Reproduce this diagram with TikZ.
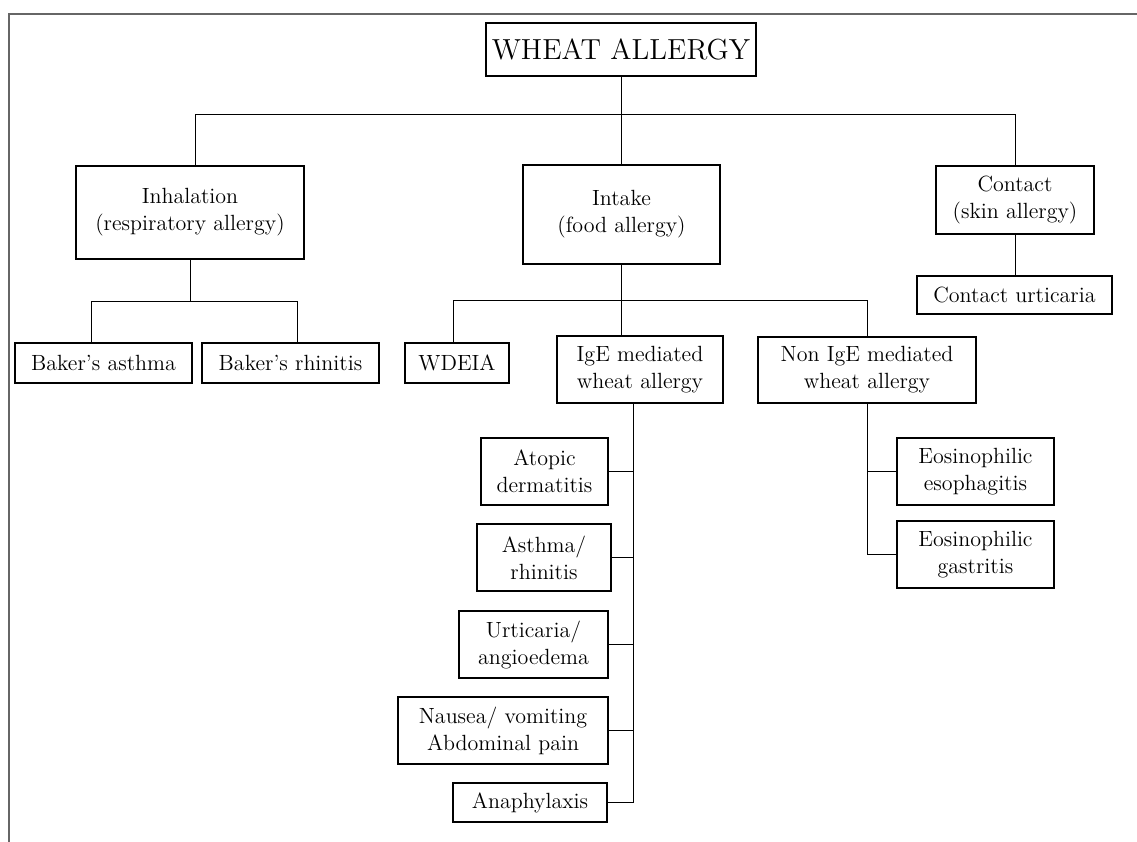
\documentclass[tikz,border=0pt]{standalone}
\usepackage{tikz}

\begin{document}
\begin{tikzpicture}[x=0.5pt,y=-0.5pt]
\tikzset{boite/.style={draw, line width=0.55pt, align=center, inner sep=1pt, font=\fontsize{11}{13.5}\selectfont}}
\useasboundingbox (0,0) rectangle (1137,842);
\draw[line width=1pt, black!60] (9,842) -- (9,14) -- (1137,14);
\node[boite, minimum width=135pt, minimum height=26.5pt, font=\fontsize{14.5}{17}\selectfont] (wa) at (621,49.5) {WHEAT ALLERGY};
\node[boite, minimum width=114pt, minimum height=46.5pt] (inh) at (190,212.5) {Inhalation\\(respiratory allergy)};
\node[boite, minimum width=98.5pt, minimum height=49.5pt] (intk) at (621.5,214.5) {Intake\\(food allergy)};
\node[boite, minimum width=79pt, minimum height=34pt] (cont) at (1015,200) {Contact\\(skin allergy)};
\node[boite, minimum width=97.5pt, minimum height=19pt] (curt) at (1014.5,295) {Contact urticaria};
\node[boite, minimum width=88.5pt, minimum height=20pt] (bka) at (103.5,363) {Baker's asthma};
\node[boite, minimum width=88.5pt, minimum height=20pt] (bkr) at (290.5,363) {Baker's rhinitis};
\node[boite, minimum width=52pt, minimum height=20pt] (wdeia) at (457,363) {WDEIA};
\node[boite, minimum width=83pt, minimum height=33.5pt] (ige) at (640,369.5) {IgE mediated\\wheat allergy};
\node[boite, minimum width=109pt, minimum height=33pt] (nonige) at (867,370) {Non IgE mediated\\wheat allergy};
\node[boite, minimum width=63.5pt, minimum height=33.5pt] (atop) at (544.5,471.5) {Atopic\\dermatitis};
\node[boite, minimum width=67pt, minimum height=33.5pt] (asth) at (544,557.5) {Asthma/\\rhinitis};
\node[boite, minimum width=74.5pt, minimum height=33.5pt] (urti) at (533.5,644.5) {Urticaria/\\angioedema};
\node[boite, minimum width=105pt, minimum height=33.5pt] (naus) at (503,730.5) {Nausea/ vomiting\\Abdominal pain};
\node[boite, minimum width=77pt, minimum height=19.5pt] (anaph) at (530,802.5) {Anaphylaxis};
\node[boite, minimum width=78.5pt, minimum height=33.5pt] (eoeso) at (975.5,471.5) {Eosinophilic\\esophagitis};
\node[boite, minimum width=78.5pt, minimum height=33.5pt] (eogas) at (975.5,554.5) {Eosinophilic\\gastritis};
% premier niveau
\coordinate (n1) at (0,114);
\draw (wa.south) -- (wa.south |- n1);
\draw ([xshift=2.5pt]inh.north) |- (cont.north |- n1) -- (cont.north);
\draw (intk.north) -- (intk.north |- n1);
% inhalation
\coordinate (n2) at (0,301);
\draw (inh.south) -- (inh.south |- n2);
\draw ([xshift=-6.25pt]bka.north) |- ([xshift=3.25pt]bkr.north |- n2) -- ([xshift=3.25pt]bkr.north);
% intake
\coordinate (n3) at (0,300);
\draw (intk.south) -- (intk.south |- ige.north);
\draw ([xshift=-2pt]wdeia.north) |- (nonige.north |- n3) -- (nonige.north);
\coordinate (sp) at ([xshift=-3.5pt]ige.south);
\draw (sp) |- (anaph.east);
\foreach \n in {atop,asth,urti,naus}
  \draw (\n.east) -- (\n.east -| sp);
\draw (nonige.south) |- (eogas.west);
\draw (eoeso.west) -- (eoeso.west -| nonige.south);
% contact
\draw (cont.south) -- (cont.south |- curt.north);
\end{tikzpicture}
\end{document}
